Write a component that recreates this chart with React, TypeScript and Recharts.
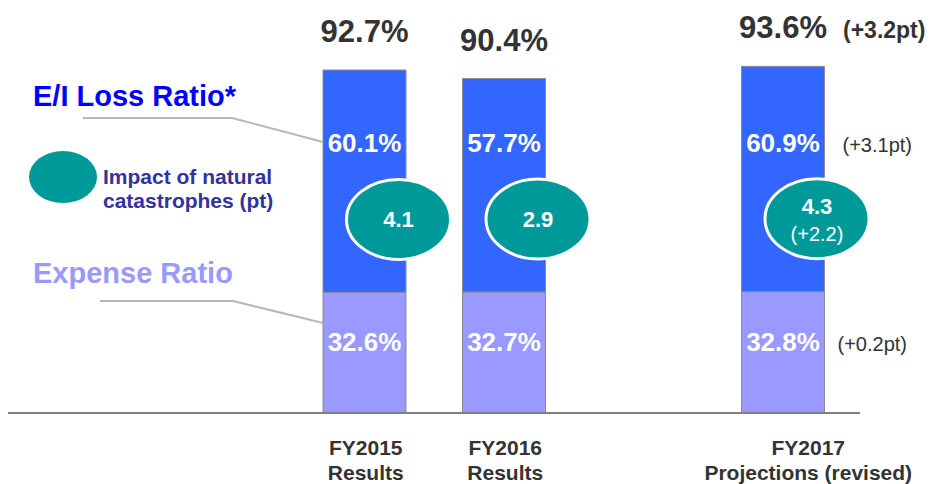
import { Bar, BarChart, LabelList, XAxis, YAxis } from "recharts";

const categories = ["FY2015", "FY2016", "FY2017"];
const subLabels = ["Results", "Results", "Projections (revised)"];
const expenseRatio = [32.6, 32.7, 32.8];
const lossRatio = [60.1, 57.7, 60.9];
const combinedRatio = [92.7, 90.4, 93.6];
const catImpact = [4.1, 2.9, 4.3];
const catChange = ["", "", "(+2.2)"];
const lossChange = ["", "", "(+3.1pt)"];
const expenseChange = ["", "", "(+0.2pt)"];
const combinedChange = ["", "", "(+3.2pt)"];

const FONT = "'Liberation Sans', Arial, sans-serif";
const LOSS = "#3366FF";
const EXPENSE = "#9999FF";
const TEAL = "#009999";
const DARK = "#333333";

// an empty slot between the results and the projection, as in the slide
const rows = categories.map((name, i) => ({
  name,
  expense: expenseRatio[i],
  loss: lossRatio[i],
}));
const data = [rows[0], rows[1], { name: " " }, rows[2]];

const box = (p: any) => {
  const vb = p.viewBox || {};
  return {
    x: Number(p.x ?? vb.x),
    y: Number(p.y ?? vb.y),
    w: Number(p.width ?? vb.width),
    h: Number(p.height ?? vb.height),
    i: categories.indexOf(p.value),
  };
};

function TopLabel(p: any) {
  const { x, y, w, i } = box(p);
  if (i < 0 || !isFinite(y)) return null;
  const cx = x + w / 2;
  return (
    <g>
      <text x={cx} y={y - 28} textAnchor="middle" fontSize={31} fontWeight="bold" fill={DARK} fontFamily={FONT}>
        {combinedRatio[i].toFixed(1)}%
      </text>
      {combinedChange[i] && (
        <text x={cx + 60} y={y - 28} fontSize={23} fontWeight="bold" fill={DARK} fontFamily={FONT}>
          {combinedChange[i]}
        </text>
      )}
    </g>
  );
}

function LossLabel(p: any) {
  const { x, y, w, h, i } = box(p);
  if (i < 0 || !isFinite(y)) return null;
  const bottom = y + h;
  return (
    <g>
      <text x={x + w / 2} y={bottom - 140} textAnchor="middle" fontSize={26} fontWeight="bold" fill="#fff" fontFamily={FONT}>
        {lossRatio[i].toFixed(1)}%
      </text>
      {lossChange[i] && (
        <text x={x + w + 18} y={bottom - 140} fontSize={20} fill={DARK} fontFamily={FONT}>
          {lossChange[i]}
        </text>
      )}
    </g>
  );
}

function CatBubble(p: any) {
  const { x, y, w, h, i } = box(p);
  if (i < 0 || !isFinite(y)) return null;
  const cx = x + w / 2 + 34;
  const cy = y + h - 73;
  const two = !!catChange[i];
  return (
    <g>
      <ellipse cx={cx} cy={cy} rx={52} ry={40} fill={TEAL} stroke="#fff" strokeWidth={3} />
      <text x={cx} y={two ? cy - 5 : cy + 8} textAnchor="middle" fontSize={22} fontWeight="bold" fill="#fff" fontFamily={FONT}>
        {catImpact[i].toFixed(1)}
      </text>
      {two && (
        <text x={cx} y={cy + 22} textAnchor="middle" fontSize={20} fill="#fff" fontFamily={FONT}>
          {catChange[i]}
        </text>
      )}
    </g>
  );
}

function ExpenseLabel(p: any) {
  const { x, y, w, i } = box(p);
  if (i < 0 || !isFinite(y)) return null;
  return (
    <g>
      <text x={x + w / 2} y={y + 59} textAnchor="middle" fontSize={26} fontWeight="bold" fill="#fff" fontFamily={FONT}>
        {expenseRatio[i].toFixed(1)}%
      </text>
      {expenseChange[i] && (
        <text x={x + w + 13} y={y + 59} fontSize={20} fill={DARK} fontFamily={FONT}>
          {expenseChange[i]}
        </text>
      )}
    </g>
  );
}

function CategoryTick(p: any) {
  const i = categories.indexOf(p.payload?.value);
  if (i < 0) return null;
  const shift = i === categories.length - 1 ? 25 : 1;
  const common = {
    textAnchor: "middle" as const,
    fontSize: 21,
    fontWeight: "bold",
    fill: DARK,
    fontFamily: FONT,
  };
  return (
    <g>
      <text x={p.x + shift} y={p.y + 42} {...common}>
        {p.payload.value}
      </text>
      <text x={p.x + shift} y={p.y + 67} {...common}>
        {subLabels[i]}
      </text>
    </g>
  );
}

export default function App() {
  return (
    <div style={{ position: "absolute", left: 0, top: 0, width: 933, height: 484 }}>
      <BarChart
        width={933}
        height={484}
        data={data}
        barSize={83}
        margin={{ top: 43, right: 73, bottom: 0, left: 8 }}
      >
        <YAxis hide domain={[0, 100]} />
        <XAxis
          dataKey="name"
          height={71}
          padding={{ left: 287, right: 7 }}
          axisLine={{ stroke: "#808080", strokeWidth: 2 }}
          tickLine={false}
          tickSize={0}
          tickMargin={0}
          interval={0}
          tick={<CategoryTick />}
        />
        <Bar dataKey="expense" stackId="r" fill={EXPENSE} stroke="#8c8c8c" strokeWidth={1} isAnimationActive={false}>
          <LabelList dataKey="name" content={<ExpenseLabel />} />
        </Bar>
        <Bar dataKey="loss" stackId="r" fill={LOSS} stroke="#8c8c8c" strokeWidth={1} isAnimationActive={false}>
          <LabelList dataKey="name" content={<TopLabel />} />
          <LabelList dataKey="name" content={<LossLabel />} />
          <LabelList dataKey="name" content={<CatBubble />} />
        </Bar>
      </BarChart>
      <svg
        width={933}
        height={484}
        style={{ position: "absolute", left: 0, top: 0, pointerEvents: "none" }}
        fontFamily={FONT}
      >
        <polyline points="83,118 232,118 323,142" fill="none" stroke="#b8b8b8" strokeWidth={2} />
        <polyline points="100,301 233,301 323,323" fill="none" stroke="#b8b8b8" strokeWidth={2} />
        <text x={33} y={106} fontSize={29} fontWeight="bold" fill="#0000FF">
          E/I Loss Ratio*
        </text>
        <ellipse cx={63} cy={177} rx={34} ry={26} fill={TEAL} />
        <text x={103} y={184} fontSize={21} fontWeight="bold" fill="#333399">
          Impact of natural
        </text>
        <text x={103} y={208} fontSize={21} fontWeight="bold" fill="#333399">
          catastrophes (pt)
        </text>
        <text x={33} y={283} fontSize={29} fontWeight="bold" fill={EXPENSE}>
          Expense Ratio
        </text>
      </svg>
    </div>
  );
}
